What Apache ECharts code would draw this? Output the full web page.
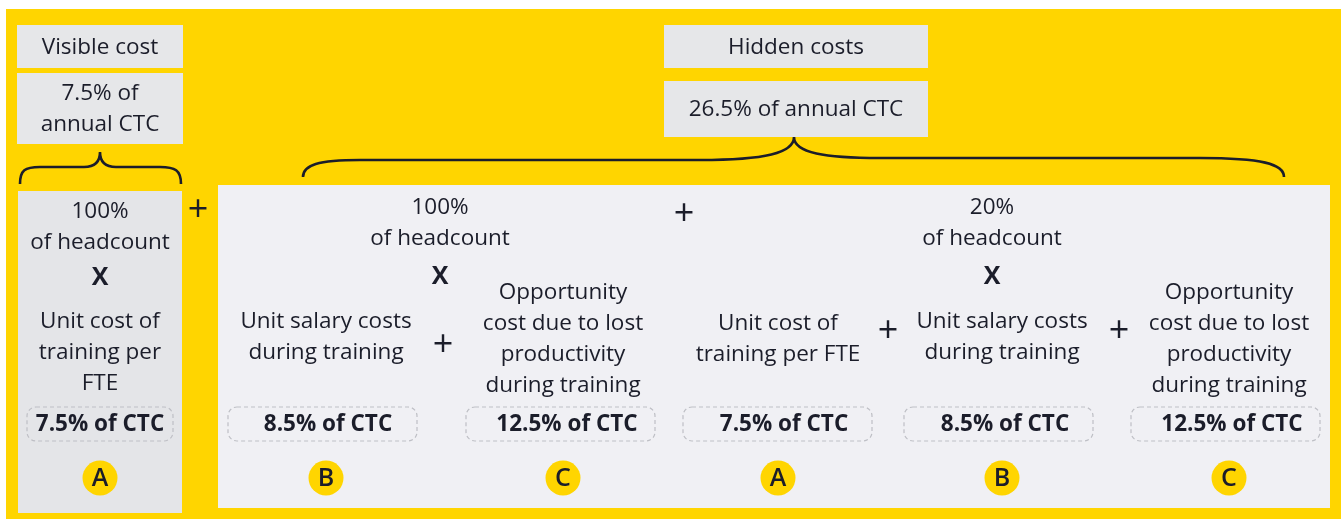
<!DOCTYPE html>
<html><head><meta charset="utf-8">
<script src="https://cdn.jsdelivr.net/npm/echarts/dist/echarts.min.js"></script>
<style>html,body{margin:0;padding:0;background:#fff}#chart{width:1341px;height:519px}</style>
</head><body><div id="chart"></div>
<script>
// ---------------- data ----------------
const groupLabels = ['Visible cost', 'Hidden costs'];
const groupShareOfCTC = [7.5, 26.5];
const headcountShares = [100, 100, 20];
const componentNames = [
  'Unit cost of\ntraining per\nFTE',
  'Unit salary costs\nduring training',
  'Opportunity\ncost due to lost\nproductivity\nduring training',
  'Unit cost of\ntraining per FTE',
  'Unit salary costs\nduring training',
  'Opportunity\ncost due to lost\nproductivity\nduring training'
];
const componentShareOfCTC = [7.5, 8.5, 12.5, 7.5, 8.5, 12.5];
const componentLetters = ['A', 'B', 'C', 'A', 'B', 'C'];
const plusSign = '+';
const timesSign = 'X';

// ---------------- layout (pixel space of the diagram) ----------------
const W = 1341, H = 519;
const FONT = '"Open Sans", "Noto Sans", sans-serif';
const INK = '#1B1D2A';
const YELLOW = '#FFD500';
const TS = 22.5;
const layout = {
  bg: [6, 9, W, H],
  headerBoxes: [[17, 25, 183, 68], [664, 25, 928, 68]],
  shareBoxes: [[17, 73, 183, 144], [664, 81, 928, 137]],
  shareBreak: [true, false],
  panels: [[18, 191, 182, 513, '#E4E5E8'], [218, 185, 1330, 508, '#F0F0F4']],
  headcountX: [100, 440, 992],
  headcountY: [227, 223, 223],
  timesY: [278, 277, 277],
  colX: [100, 326, 563, 778, 1002, 1229],
  nameY: [352.5, 337, 339, 339, 337, 339],
  boxX: [[27, 173], [228, 417], [466, 655], [683, 872], [904, 1093], [1131, 1320]],
  boxY: [407, 441],
  ctcX: [100, 328, 567, 784, 1005, 1232],
  circleY: 478,
  plus: [[198, 211], [684, 215], [443, 346], [888, 332], [1119, 332]],
  braces: [
    [[20,184],'C',[20,170],[25,167],[40,167],'L',[84,167],'C',[95,167],[100,162],[100,152],'C',[100,162],[105,167],[116,167],'L',[160,167],'C',[175,167],[181,170],[181,184]],
    [[303,177],'C',[303,165],[318,160],[360,160],'L',[700,160],'C',[765,160],[794,153],[794,137],'C',[794,153],[825,158],[880,158],'L',[1200,158],'C',[1262,158],[1284,164],[1284,177]]
  ]
};

function txt(api, x, y, text, size, weight, extra) {
  const p = api.coord([x, y]);
  return {
    type: 'text',
    style: Object.assign({
      x: p[0], y: p[1], text: text,
      font: (weight || 'normal') + ' ' + size + 'px ' + FONT,
      fill: INK, align: 'center', verticalAlign: 'middle', lineHeight: 31
    }, extra || {})
  };
}
function rect(api, b, style, r) {
  const p0 = api.coord([b[0], b[1]]), p1 = api.coord([b[2], b[3]]);
  return { type: 'rect', shape: { x: p0[0], y: p0[1], width: p1[0] - p0[0], height: p1[1] - p0[1], r: r || 0 }, style: style };
}

const chart = echarts.init(document.getElementById('chart'), null, { renderer: 'canvas' });

const series = [
  { // background + panels
    type: 'custom', silent: true, data: [[0]],
    renderItem: function (params, api) {
      const children = [rect(api, layout.bg, { fill: YELLOW })];
      layout.panels.forEach(function (p) { children.push(rect(api, p, { fill: p[4] })); });
      return { type: 'group', children: children };
    }
  },
  { // group headers
    type: 'custom', silent: true, data: groupLabels.map(function (_, i) { return [i]; }),
    renderItem: function (params, api) {
      const i = params.dataIndex;
      const hb = layout.headerBoxes[i], sb = layout.shareBoxes[i];
      const share = groupShareOfCTC[i] + '% of' + (layout.shareBreak[i] ? '\n' : ' ') + 'annual CTC';
      return { type: 'group', children: [
        rect(api, hb, { fill: '#E6E7E9' }),
        rect(api, sb, { fill: '#E6E7E9' }),
        txt(api, (hb[0] + hb[2]) / 2, (hb[1] + hb[3]) / 2 + 1, groupLabels[i], TS),
        txt(api, (sb[0] + sb[2]) / 2, (sb[1] + sb[3]) / 2 + 1, share, TS)
      ] };
    }
  },
  { // braces
    type: 'custom', silent: true, data: layout.braces.map(function (_, i) { return [i]; }),
    renderItem: function (params, api) {
      const seq = layout.braces[params.dataIndex];
      let d = '';
      seq.forEach(function (s, k) {
        if (typeof s === 'string') { d += ' ' + s; return; }
        const p = api.coord(s);
        d += (k === 0 ? 'M' : ' ') + p[0].toFixed(1) + ' ' + p[1].toFixed(1);
      });
      return { type: 'path', shape: { pathData: d }, style: { fill: 'none', stroke: INK, lineWidth: 2.6 } };
    }
  },
  { // headcount factors
    type: 'custom', silent: true, data: headcountShares.map(function (_, i) { return [i]; }),
    renderItem: function (params, api) {
      const i = params.dataIndex;
      return { type: 'group', children: [
        txt(api, layout.headcountX[i], layout.headcountY[i], headcountShares[i] + '%\nof headcount', TS),
        txt(api, layout.headcountX[i], layout.timesY[i], timesSign, 25, 'bold')
      ] };
    }
  },
  { // components
    type: 'custom', silent: true, data: componentNames.map(function (_, i) { return [i]; }),
    renderItem: function (params, api) {
      const i = params.dataIndex;
      const bx = layout.boxX[i];
      const c = api.coord([layout.colX[i], layout.circleY]);
      return { type: 'group', children: [
        txt(api, layout.colX[i], layout.nameY[i], componentNames[i], TS),
        rect(api, [bx[0], layout.boxY[0], bx[1], layout.boxY[1]], { fill: 'none', stroke: '#BEBFC5', lineWidth: 1.2, lineDash: [4, 3] }, 9),
        txt(api, layout.ctcX[i], (layout.boxY[0] + layout.boxY[1]) / 2 + 1, componentShareOfCTC[i] + '% of CTC', 22.5, 'bold'),
        { type: 'circle', shape: { cx: c[0], cy: c[1], r: 17.5 }, style: { fill: YELLOW } },
        txt(api, layout.colX[i], layout.circleY + 1, componentLetters[i], 25, '600')
      ] };
    }
  },
  { // plus operators
    type: 'custom', silent: true, data: layout.plus.map(function (_, i) { return [i]; }),
    renderItem: function (params, api) {
      const p = layout.plus[params.dataIndex];
      return txt(api, p[0], p[1], plusSign, 36, 'normal');
    }
  }
];

chart.setOption({
  animation: false,
  grid: { left: 0, right: 0, top: 0, bottom: 0 },
  xAxis: { type: 'value', min: 0, max: W, show: false },
  yAxis: { type: 'value', min: 0, max: H, inverse: true, show: false },
  series: series
});
</script>
</body></html>
